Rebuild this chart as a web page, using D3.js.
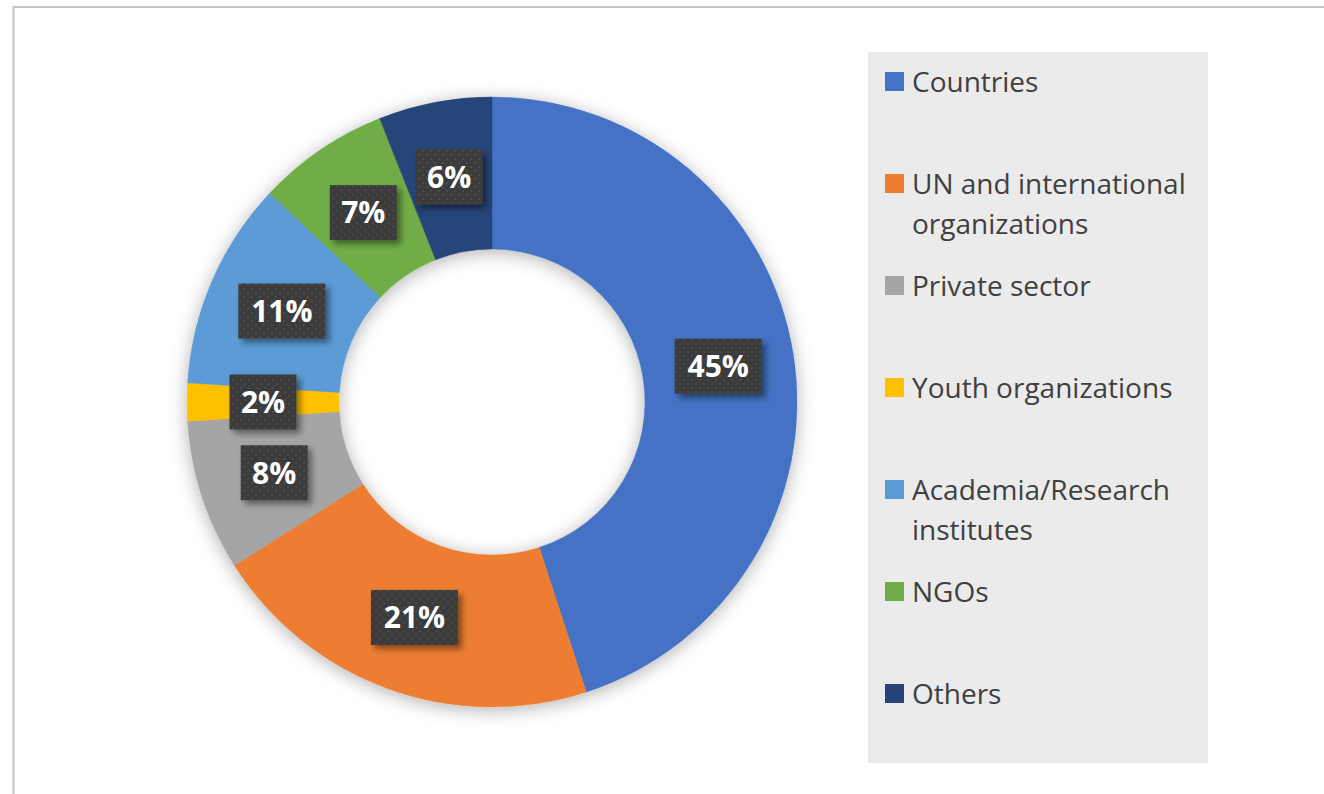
<!DOCTYPE html>
<html>
<head>
<meta charset="utf-8">
<script src="https://cdn.jsdelivr.net/npm/d3@7"></script>
<style>
  body { margin: 0; background: #fff; }
  svg { display: block; }
</style>
</head>
<body>
<div id="viz"></div>
<script>
// data
const categories = ['Countries', 'UN and international organizations', 'Private sector',
  'Youth organizations', 'Academia/Research institutes', 'NGOs', 'Others'];
const legendLines = [['Countries'], ['UN and international', 'organizations'], ['Private sector'],
  ['Youth organizations'], ['Academia/Research', 'institutes'], ['NGOs'], ['Others']];
const shares = [45, 21, 8, 2, 11, 7, 6];
const colors = ['#4472C4', '#ED7D31', '#A5A5A5', '#FFC000', '#5B9BD5', '#70AD47', '#264478'];

const width = 1324, height = 794;
const cx = 492, cy = 402;
const outerR = 305, innerR = 153;

const svg = d3.select('#viz').append('svg')
  .attr('width', width)
  .attr('height', height);

const defs = svg.append('defs');

// soft shadow under the ring
const ringShadow = defs.append('filter').attr('id', 'ringShadow')
  .attr('x', '-20%').attr('y', '-20%').attr('width', '140%').attr('height', '140%');
ringShadow.append('feDropShadow')
  .attr('dx', 0).attr('dy', 3)
  .attr('stdDeviation', 9)
  .attr('flood-color', '#000')
  .attr('flood-opacity', 0.3);

// label box shadow
const boxShadow = defs.append('filter').attr('id', 'boxShadow')
  .attr('x', '-30%').attr('y', '-30%').attr('width', '170%').attr('height', '170%');
boxShadow.append('feDropShadow')
  .attr('dx', 4).attr('dy', 4)
  .attr('stdDeviation', 3)
  .attr('flood-color', '#000')
  .attr('flood-opacity', 0.45);

// dotted texture of the label boxes
const dots = defs.append('pattern').attr('id', 'dots')
  .attr('patternUnits', 'userSpaceOnUse')
  .attr('width', 8).attr('height', 8);
dots.append('rect').attr('width', 8).attr('height', 8).attr('fill', '#3b3b3b');
dots.append('circle').attr('cx', 2).attr('cy', 2).attr('r', 1).attr('fill', '#525252');
dots.append('circle').attr('cx', 6).attr('cy', 6).attr('r', 1).attr('fill', '#525252');

// outer frame
svg.append('rect')
  .attr('x', 13.5).attr('y', 7)
  .attr('width', width + 20).attr('height', height + 20)
  .attr('fill', 'none')
  .attr('stroke', '#c4c4c4')
  .attr('stroke-width', 2);

const pie = d3.pie().sort(null).value(d => d);
const arcs = pie(shares);

const arc = d3.arc().innerRadius(innerR).outerRadius(outerR);
const labelArc = d3.arc().innerRadius((innerR + outerR) / 2).outerRadius((innerR + outerR) / 2);

const g = svg.append('g').attr('transform', `translate(${cx},${cy})`);

g.append('g')
  .attr('filter', 'url(#ringShadow)')
  .selectAll('path')
  .data(arcs)
  .enter().append('path')
  .attr('d', arc)
  .attr('fill', (d, i) => colors[i])
  .attr('stroke', (d, i) => colors[i])
  .attr('stroke-width', 0.5);

// data labels
const labels = g.selectAll('.lbl')
  .data(arcs)
  .enter().append('g')
  .attr('class', 'lbl')
  .attr('transform', d => `translate(${labelArc.centroid(d)})`);

labels.each(function(d) {
  const sel = d3.select(this);
  const txt = d.data + '%';
  const w = txt.length === 2 ? 67 : 87;
  const h = 55;
  sel.append('rect')
    .attr('x', -w / 2).attr('y', -h / 2)
    .attr('width', w).attr('height', h)
    .attr('fill', 'url(#dots)')
    .attr('filter', 'url(#boxShadow)');
  sel.append('text')
    .attr('text-anchor', 'middle')
    .attr('dy', '0.36em')
    .attr('fill', '#fff')
    .style('font-family', '"Open Sans", sans-serif')
    .style('font-weight', 'bold')
    .style('font-size', '30px')
    .text(txt);
});

// legend
const legend = svg.append('g').attr('class', 'legend');
legend.append('rect')
  .attr('x', 868).attr('y', 52)
  .attr('width', 340).attr('height', 711)
  .attr('fill', '#ebebeb');

const item = legend.selectAll('.legend-item')
  .data(categories)
  .enter().append('g')
  .attr('class', 'legend-item')
  .attr('transform', (d, i) => `translate(885, ${82 + i * 102})`);

item.append('rect')
  .attr('x', 0).attr('y', -10)
  .attr('width', 19).attr('height', 19)
  .attr('fill', (d, i) => colors[i]);

item.each(function(d, i) {
  const t = d3.select(this).append('text')
    .attr('x', 27)
    .attr('fill', '#404040')
    .style('font-family', '"Open Sans", sans-serif')
    .style('font-size', '28px');
  legendLines[i].forEach((line, j) => {
    t.append('tspan')
      .attr('x', 27)
      .attr('y', j * 40)
      .attr('dy', '0.35em')
      .text(line);
  });
});
</script>
</body>
</html>
